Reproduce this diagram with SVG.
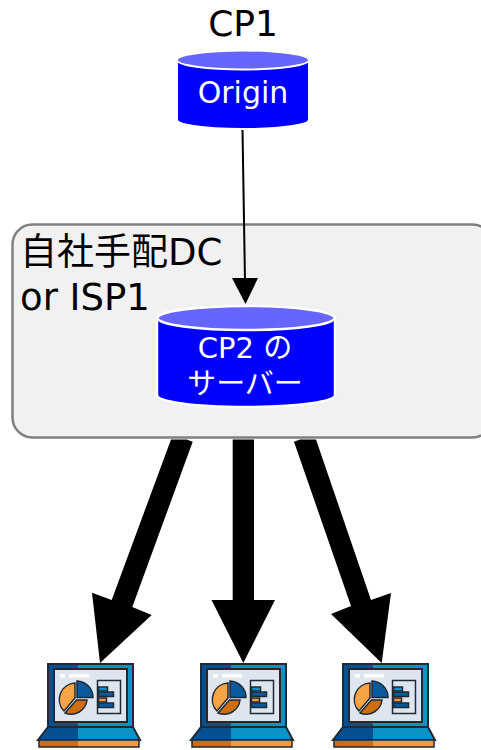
<svg xmlns="http://www.w3.org/2000/svg" width="481" height="750" viewBox="0 0 481 750">
<style>
text{font-family:"DejaVu Sans","Noto Sans CJK JP",sans-serif}
.w{fill:#fff;text-anchor:middle}
.k{fill:#000}
.o{stroke:#1f2a36;stroke-width:2}
.t{stroke:#1f2a36;stroke-width:1.500}
</style>
<defs>
<g id="laptop">
<path d="M48 664H133V727H48Z" fill="#0a93c6"/>
<path d="M48 664H78V727H48Z" fill="#06508f"/>
<path d="M48 664H133V727H48Z" fill="none" class="o"/>
<rect x="54" y="669" width="73" height="53" fill="#dde6ef" class="o"/>
<rect x="60" y="674" width="5" height="3.500" fill="#fff"/>
<rect x="69" y="674" width="20" height="3.500" fill="#fff"/>
<path d="M48 727H133L140 740H38Z" fill="#0a93c6"/>
<path d="M48 727H78V740H38Z" fill="#06508f"/>
<path d="M48 727H133L140 740H38Z" fill="none" class="o"/>
<rect x="39" y="740" width="100" height="7" fill="#f39a3c"/>
<rect x="39" y="740" width="39" height="7" fill="#cf6d14"/>
<rect x="39" y="740" width="100" height="7" fill="none" class="t"/>
<path d="M75 698V683A16.500 16.500 0 0 0 64 711Z" fill="#f7a444" class="t"/>
<path d="M65 713L76.500 700H87A16 16 0 0 1 65 713Z" fill="#cf6d14" class="t"/>
<path d="M77 697.500V681A16.500 16.500 0 0 1 93 697.500Z" fill="#0a5a9c" class="t"/>
<rect x="97.500" y="680.500" width="23" height="33" fill="#dde6ef" class="t"/>
<rect x="98.500" y="687" width="9" height="4" fill="#0a93c6" class="t"/>
<rect x="98.500" y="692" width="15" height="4.500" fill="#0a5a9c" class="t"/>
<rect x="98.500" y="698" width="8" height="4" fill="#f39a3c" class="t"/>
<rect x="98.500" y="703" width="15" height="4.500" fill="#0a5a9c" class="t"/>
</g>
</defs>
<g id="dc">
<rect x="12.500" y="224.500" width="480" height="213" rx="20" fill="#f1f1f1" stroke="#808080" stroke-width="2.500"/>
<text class="k" font-size="37"><tspan x="20" y="265">自社手配DC</tspan><tspan x="20" y="310">or ISP1</tspan></text>
</g>
<g id="connectors">
<path d="M242.500 130L245 281" fill="none" stroke="#000" stroke-width="2"/>
<path d="M245.500 304L232 278H258Z" fill="#000"/>
<path d="M171 439.500H186.700L192.700 441.700L132.300 607L151.700 615L100 663L92 592.700L111.700 600Z" fill="#000"/>
<path d="M232.700 439.500H254V600H275L243.300 663L211.500 600H232.700Z" fill="#000"/>
<path d="M294 441.700L300 439.500H316L371 600L391 593L381.700 663L331 614L351 606Z" fill="#000"/>
</g>
<text id="cp1" x="243" y="36" class="k" font-size="36" text-anchor="middle">CP1</text>
<g id="origin">
<path d="M177 60V120C177 124 199 129 243 129C287 129 309 124 309 120V60Z" fill="#00f" stroke="#fff" stroke-width="2"/>
<ellipse cx="243" cy="60" rx="66" ry="9.500" fill="#6666ff" stroke="#fff" stroke-width="2"/>
<text class="w" x="243" y="103" font-size="30">Origin</text>
</g>
<g id="cp2">
<path d="M157 318V395C157 401 190 407 246 407C302 407 335 401 335 395V318Z" fill="#00f" stroke="#fff" stroke-width="2.500"/>
<ellipse cx="246" cy="318" rx="88.500" ry="12" fill="#6666ff" stroke="#fff" stroke-width="2.500"/>
<text class="w" font-size="29"><tspan x="245" y="358">CP2 の</tspan><tspan x="245" y="394">サーバー</tspan></text>
</g>
<use id="pc1" href="#laptop"/>
<use id="pc2" href="#laptop" x="153"/>
<use id="pc3" href="#laptop" x="295"/>
</svg>
